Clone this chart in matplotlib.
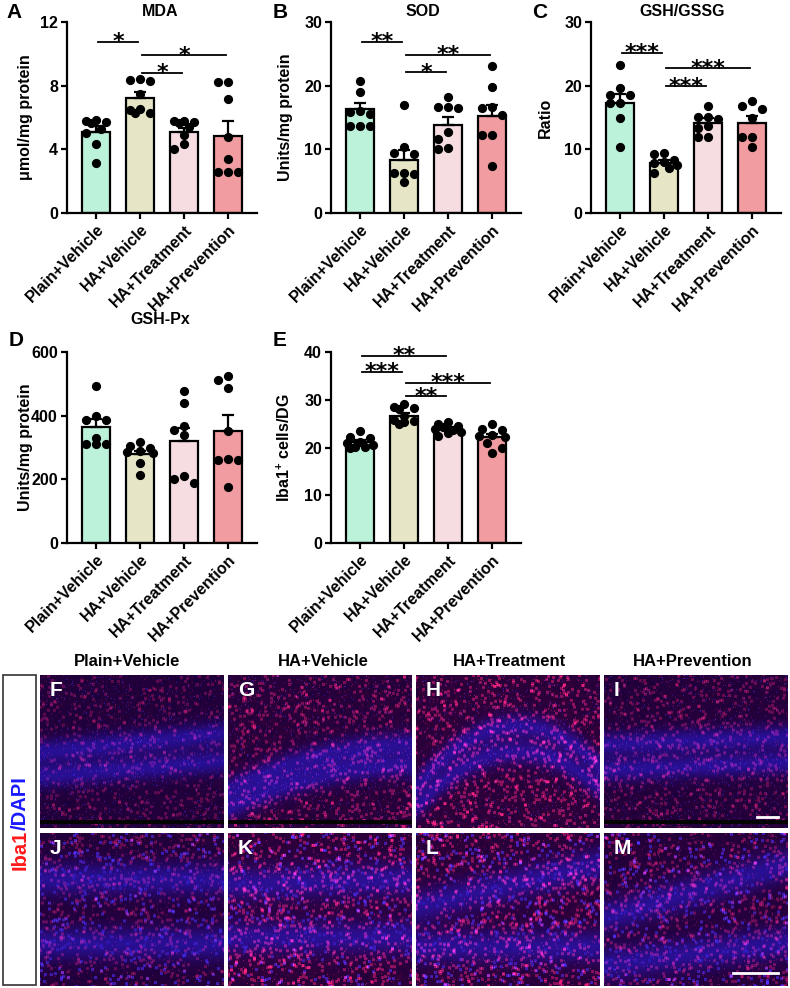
import numpy as np
import matplotlib
matplotlib.use("Agg")
import matplotlib.pyplot as plt
from matplotlib.patches import Rectangle
from matplotlib.lines import Line2D

plt.rcParams["font.family"] = ["Liberation Sans", "DejaVu Sans"]
plt.rcParams["font.weight"] = "bold"
plt.rcParams["axes.labelweight"] = "bold"
plt.rcParams["mathtext.fontset"] = "custom"
plt.rcParams["mathtext.bf"] = "Liberation Sans:bold"
plt.rcParams["mathtext.rm"] = "Liberation Sans:bold"
plt.rcParams["mathtext.default"] = "bf"

# ---- data ----
groups = ["Plain+Vehicle", "HA+Vehicle", "HA+Treatment", "HA+Prevention"]
bar_colors = ["#BDF2DA", "#E6E6C6", "#F5DDE1", "#F09CA0"]

mda_mean = [5.1, 7.2, 5.1, 4.85]
mda_sem = [0.35, 0.38, 0.25, 0.95]
mda_points = [[5.85, 5.75, 5.7, 5.65, 5.3, 5.05, 4.35, 3.15],
              [8.35, 8.3, 8.4, 7.45, 6.55, 6.3, 6.3, 6.5],
              [5.7, 5.75, 5.75, 5.65, 5.4, 4.9, 4.35, 4.0],
              [8.2, 8.2, 7.15, 4.8, 3.4, 2.6, 2.6, 2.6]]
mda_sig = [(0, 1, 10.75, "*"), (1, 3, 9.9, "*"), (1, 2, 8.8, "*")]

sod_mean = [16.3, 8.4, 13.9, 15.2]
sod_sem = [0.9, 1.45, 1.2, 1.8]
sod_points = [[20.8, 19.0, 16.0, 15.9, 15.5, 13.7, 13.7, 13.7],
              [16.9, 10.4, 9.4, 9.2, 6.3, 6.3, 6.2, 4.8],
              [18.2, 16.6, 16.5, 16.6, 12.8, 11.7, 10.2, 10.1],
              [23.1, 19.8, 16.6, 16.5, 15.4, 12.3, 12.2, 7.4]]
sod_sig = [(0, 1, 26.9, "**"), (1, 3, 24.8, "**"), (1, 2, 22.1, "*")]

gsh_mean = [17.3, 7.9, 14.1, 14.2]
gsh_sem = [1.4, 0.5, 0.8, 1.1]
gsh_points = [[23.2, 19.6, 18.6, 18.6, 17.2, 17.2, 14.9, 10.4],
              [9.3, 9.4, 8.4, 8.0, 7.9, 7.6, 7.0, 6.3],
              [16.8, 15.1, 15.1, 14.7, 13.7, 13.3, 11.9, 11.9],
              [17.6, 16.8, 16.4, 14.9, 12.0, 12.0, 10.4]]
gsh_sig = [(0, 1, 25.1, "***"), (1, 3, 22.7, "***"), (1, 2, 19.9, "***")]

gpx_mean = [364, 279, 319, 353]
gpx_sem = [26, 11, 43, 50]
gpx_points = [[494, 400, 385, 385, 330, 312, 310, 310],
              [318, 305, 300, 290, 285, 283, 252, 213],
              [476, 441, 367, 355, 339, 209, 200, 189],
              [525, 513, 486, 352, 265, 262, 262, 176]]
gpx_sig = []

iba_mean = [21.1, 26.7, 23.9, 22.2]
iba_sem = [0.45, 0.6, 0.35, 0.6]
iba_points = [[23.4, 22.3, 22.0, 21.2, 20.9, 20.5, 20.2, 20.1, 20.0],
              [29.2, 28.5, 28.3, 28.1, 26.5, 25.7, 25.5, 25.3, 24.9],
              [25.4, 25.0, 24.6, 24.2, 23.8, 23.6, 23.3, 23.0, 22.4],
              [25.0, 23.8, 23.6, 22.6, 22.5, 22.3, 20.9, 19.9, 18.8]]
iba_sig = [(0, 2, 39.2, "**"), (0, 1, 35.9, "***"), (1, 3, 33.5, "***"), (1, 2, 30.7, "**")]

W, H = 790, 988
fig = plt.figure(figsize=(W / 100, H / 100), dpi=100)


def rect(l, t, w, h):
    return [l / W, 1 - (t + h) / H, w / W, h / H]


def swarm(vals, ypx, d=8.5, xpx=44.0):
    # offsets in pixels, kept within the bar like GraphPad's scatter
    cands = [0, -10, 10, -5, 5, -13, 13]
    placed = []
    offs = np.zeros(len(vals))
    for k in np.argsort(vals)[::-1]:
        y = vals[k] * ypx
        best, best_d = 0, -1
        for x in cands:
            md = min([np.hypot(x - px, y - py) for px, py in placed] + [99])
            if md >= d:
                best = x
                break
            if md > best_d:
                best, best_d = x, md
        placed.append((best, y))
        offs[k] = best / xpx
    return offs


def bar_panel(ax, means, sems, points, sigs, ylim, yticks, ylabel, lab_x):
    x = np.arange(len(groups))
    ax.bar(x, means, width=0.62, color=bar_colors, edgecolor="black", linewidth=1.6, zorder=2)
    ax.errorbar(x, means, yerr=[np.zeros(len(x)), sems], fmt="none", ecolor="black",
                elinewidth=1.6, capsize=4.5, capthick=1.6, zorder=3)
    ypx = 191.0 / (ylim[1] - ylim[0])
    for i, pts in enumerate(points):
        offs = swarm(np.array(pts), ypx)
        ax.scatter(i + offs, pts, s=44, color="black", linewidths=0, zorder=4, clip_on=False)
    for i, j, h, lab in sigs:
        ax.plot([i + 0.05, j - 0.05], [h, h], color="black", lw=1.3, clip_on=False)
        ax.annotate(lab, (0.5 * (i + j), h), xytext=(0, -4.5), textcoords="offset points",
                    ha="center", va="baseline", fontsize=16, fontweight="bold",
                    family="DejaVu Sans", annotation_clip=False)
    ax.set_xlim(-0.66, 3.66)
    ax.set_ylim(ylim)
    ax.set_yticks(yticks)
    ax.set_xticks(x)
    ax.set_xticklabels(groups, rotation=45, ha="right", rotation_mode="anchor",
                       fontsize=10.5, fontweight="bold")
    for s in ["top", "right"]:
        ax.spines[s].set_visible(False)
    for s in ["left", "bottom"]:
        ax.spines[s].set_linewidth(1.6)
    ax.tick_params(axis="both", length=4.5, width=1.6, labelsize=11.5, pad=2)
    for t in ax.get_yticklabels():
        t.set_fontweight("bold")
    ax.set_ylabel(ylabel, fontsize=11.5)
    ax.yaxis.set_label_coords(lab_x, 0.5)


axA = fig.add_axes(rect(67, 22, 190, 191))
bar_panel(axA, mda_mean, mda_sem, mda_points, mda_sig, (0, 12), [0, 4, 8, 12], "μmol/mg protein", -0.18)
axB = fig.add_axes(rect(331, 22, 190, 191))
bar_panel(axB, sod_mean, sod_sem, sod_points, sod_sig, (0, 30), [0, 10, 20, 30], "Units/mg protein", -0.2)
axC = fig.add_axes(rect(591, 22, 190, 191))
bar_panel(axC, gsh_mean, gsh_sem, gsh_points, gsh_sig, (0, 30), [0, 10, 20, 30], "Ratio", -0.2)
axD = fig.add_axes(rect(67, 352, 190, 191))
bar_panel(axD, gpx_mean, gpx_sem, gpx_points, gpx_sig, (0, 600), [0, 200, 400, 600], "Units/mg protein", -0.18)
axE = fig.add_axes(rect(331, 352, 190, 191))
bar_panel(axE, iba_mean, iba_sem, iba_points, iba_sig, (0, 40), [0, 10, 20, 30, 40], "Iba1$^{+}$ cells/DG", -0.2)

titles = [("MDA", 160, 12), ("SOD", 423, 12), ("GSH/GSSG", 682, 12), ("GSH-Px", 160, 320)]
for txt, px, py in titles:
    fig.text(px / W, 1 - py / H, txt, ha="center", va="center", fontsize=11.5, fontweight="bold")

letters = [("A", 14, 12), ("B", 280, 12), ("C", 540, 12), ("D", 16, 340), ("E", 280, 340)]
for txt, px, py in letters:
    fig.text(px / W, 1 - py / H, txt, ha="center", va="center", fontsize=15, fontweight="bold")

# ---- immunofluorescence panels (schematic rendering) ----
def noise(h, w, k):
    yy, xx = np.mgrid[0:h, 0:w]
    v = np.sin(xx * 12.9898 + yy * 78.233 + k * 4.1414) * 43758.5453
    return v - np.floor(v)


def blur(a, r):
    out = np.zeros_like(a)
    for dy in range(-r, r + 1):
        for dx in range(-r, r + 1):
            out += np.roll(np.roll(a, dy, 0), dx, 1)
    return out / (2 * r + 1) ** 2


def make_img(bands, red, k, zoomed, gap=False, h=154, w=184):
    yy, xx = np.mgrid[0:h, 0:w]
    u = xx / w
    v = yy / h
    band = np.zeros((h, w))
    sig = 0.075 if zoomed else 0.055
    for f in bands:
        band += np.exp(-((v - f(u)) ** 2) / (2 * sig ** 2))
    band = np.clip(band, 0, 1)
    nr = noise(h, w, k)
    nb = noise(h, w, k + 7)
    ns = noise(h, w, k + 13)
    nd = noise(h, w, k + 21)
    thr = 0.988 - 0.012 * red
    spk_r = np.clip(blur((ns > thr).astype(float), 1) * 4.0, 0, 1)
    spk_r = np.maximum(spk_r, 0.5 * (ns > 0.96))
    if zoomed:
        dots = np.clip(blur((nd > 0.988).astype(float), 1) * 5.0, 0, 1) * (1 - 0.7 * band)
    else:
        dots = (nd > 0.98).astype(float) * 0.5
    haze = red * 0.2 * blur(nr, 1) * (1 - 0.6 * band)
    R = 0.07 + 0.06 * band + haze + 0.85 * red * spk_r + 0.2 * dots
    G = 0.0 + 0.06 * band + 0.15 * red * spk_r + 0.2 * dots
    B = 0.2 + 0.06 * nb + 0.35 * band + 0.3 * red * spk_r + 0.8 * dots
    img = np.clip(np.dstack([R, G, B]), 0, 1)
    if gap:
        dark = (v > 0.945) & (v < 0.97)
        img[dark] = 0.02
    return img


panel_specs = [
    ("F", [lambda u: 0.50 - 0.12 * u, lambda u: 0.66 - 0.10 * u], 0.6, False, True),
    ("G", [lambda u: 0.45 + 0.30 * (1 - u) ** 2, lambda u: 0.59 + 0.28 * (1 - u) ** 2], 0.85, False, True),
    ("H", [lambda u: 0.33 + 1.3 * (u - 0.55) ** 2, lambda u: 0.50 + 1.2 * (u - 0.55) ** 2], 1.0, False, False),
    ("I", [lambda u: 0.45 - 0.05 * u, lambda u: 0.62 - 0.05 * u], 0.7, False, True),
    ("J", [lambda u: 0.30 + 0 * u, lambda u: 0.72 + 0 * u], 0.65, True, False),
    ("K", [lambda u: 0.33 - 0.03 * u, lambda u: 0.68 + 0 * u], 1.0, True, False),
    ("L", [lambda u: 0.48 - 0.28 * u, lambda u: 0.74 + 0 * u], 0.95, True, False),
    ("M", [lambda u: 0.55 - 0.35 * u, lambda u: 0.86 - 0.15 * u], 0.75, True, False),
]
col_left = [40, 228, 416, 604]
row_top = [675, 833]
for n, (lab, bands, red, zoomed, gap) in enumerate(panel_specs):
    c, r = n % 4, n // 4
    ax = fig.add_axes(rect(col_left[c], row_top[r], 184, 153))
    ax.imshow(make_img(bands, red, n * 3 + 1, zoomed, gap), aspect="auto", interpolation="bilinear")
    ax.set_xticks([])
    ax.set_yticks([])
    for s in ax.spines.values():
        s.set_visible(False)
    ax.text(0.055, 0.9, lab, transform=ax.transAxes, color="white", fontsize=15,
            fontweight="bold", ha="left", va="center")

# scale bars
for x0, x1, y in [(757, 778, 817), (733, 778, 973)]:
    fig.add_artist(Line2D([x0 / W, x1 / W], [1 - y / H, 1 - y / H], color="white", lw=2))

for txt, px in [("Plain+Vehicle", 127), ("HA+Vehicle", 323), ("HA+Treatment", 509), ("HA+Prevention", 693)]:
    fig.text(px / W, 1 - 661 / H, txt, ha="center", va="center", fontsize=12, fontweight="bold")

fig.add_artist(Rectangle((3 / W, 1 - 985 / H), 33 / W, 310 / H, transform=fig.transFigure,
                         fill=False, edgecolor="#333333", lw=1.2))
t1 = fig.text(20 / W, 1 - 870 / H, "Iba1", rotation=90, ha="center", va="bottom",
              fontsize=14.5, fontweight="bold", color="#FF1A1A")
rend = fig.canvas.get_renderer()
bb = t1.get_window_extent(renderer=rend)
fig.text(20 / W, bb.y1 / H, "/DAPI", rotation=90, ha="center", va="bottom",
         fontsize=14.5, fontweight="bold", color="#1A1AFF")

fig.savefig("out.png", dpi=100)
